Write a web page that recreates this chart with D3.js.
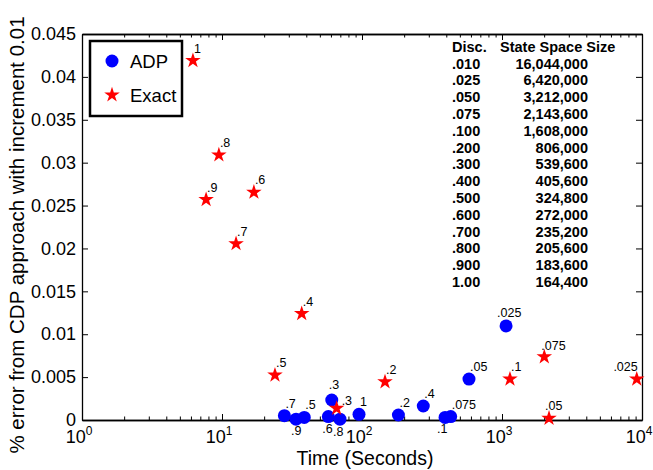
<!DOCTYPE html>
<html>
<head>
<meta charset="utf-8">
<script src="https://d3js.org/d3.v7.min.js"></script>
<style>
  body { margin: 0; background: #fff; }
  text { font-family: "Liberation Sans", Arial, Helvetica, sans-serif; }
</style>
</head>
<body>
<div id="chart"></div>
<script>
// ---- data ----
var adpLabels = [".7", ".9", ".5", ".6", ".3", ".8", "1", ".2", ".4", ".1", ".075", ".05", ".025"];
var adpTime   = [27.9, 33.8, 38.7, 57.5, 60.8, 69.6, 95.2, 182, 274, 392, 430, 581, 1069];
var adpError  = [0.0005, 0.0001, 0.0003, 0.0004, 0.00233, 0.0001, 0.00066, 0.00058, 0.00163, 0.0003, 0.0004, 0.00477, 0.01097];

var exactLabels = ["1", ".8", ".9", ".6", ".7", ".4", ".5", ".3", ".2", ".1", ".075", ".05", ".025"];
var exactTime   = [6.2, 9.5, 7.7, 16.9, 12.6, 37.1, 23.9, 65.9, 146, 1140, 2005, 2167, 9170];
var exactError  = [0.0419, 0.0309, 0.0257, 0.02655, 0.02055, 0.0124, 0.00523, 0.00136, 0.00445, 0.00477, 0.00736, 0.0002, 0.00477];

var yTicks = [0, 0.005, 0.01, 0.015, 0.02, 0.025, 0.03, 0.035, 0.04, 0.045];
var yTickLabels = ["0", "0.005", "0.01", "0.015", "0.02", "0.025", "0.03", "0.035", "0.04", "0.045"];
var xTicks = [1, 10, 100, 1000, 10000];
var xTickExp = ["0", "1", "2", "3", "4"];

var discCol = [".010", ".025", ".050", ".075", ".100", ".200", ".300", ".400", ".500", ".600", ".700", ".800", ".900", "1.00"];
var sizeCol = ["16,044,000", "6,420,000", "3,212,000", "2,143,600", "1,608,000", "806,000", "539,600",
               "405,600", "324,800", "272,000", "235,200", "205,600", "183,600", "164,400"];

// label placement tweaks (layout only)
var adpLabelPos = {
  ".9": [-5, 16], ".6": [-6, 16], ".8": [-7, 17], ".1": [-8, 16],
  ".3": [-3, -11], ".025": [-9, -9]
};
var exactLabelPos = { ".3": [5, -3], ".075": [-3, -7], ".05": [-4, -8] };

// ---- layout ----
var W = 653, H = 470;
var mLeft = 82, mRight = 642, mTop = 34, mBottom = 420;

var svg = d3.select("#chart").append("svg")
  .attr("width", W).attr("height", H);

var x = d3.scaleLog().domain([1, 10000]).range([mLeft, mRight]);
var y = d3.scaleLinear().domain([0, 0.045]).range([mBottom, mTop]);

var minors = [];
for (var k = 0; k < 4; k++) for (var m = 2; m <= 9; m++) minors.push(m * Math.pow(10, k));

function styleAxis(g) {
  g.select(".domain").attr("stroke", "#000").attr("stroke-width", 1.3);
  g.selectAll(".tick line").attr("stroke", "#000").attr("stroke-width", 1);
}

// bottom / top axes (ticks point inward)
svg.append("g").attr("transform", "translate(0," + mBottom + ")")
  .call(d3.axisBottom(x).tickValues(xTicks).tickFormat("").tickSize(-6).tickSizeOuter(0)).call(styleAxis);
svg.append("g").attr("transform", "translate(0," + mBottom + ")")
  .call(d3.axisBottom(x).tickValues(minors).tickFormat("").tickSize(-3.5).tickSizeOuter(0)).call(styleAxis);
svg.append("g").attr("transform", "translate(0," + mTop + ")")
  .call(d3.axisTop(x).tickValues(xTicks).tickFormat("").tickSize(-6).tickSizeOuter(0)).call(styleAxis);
svg.append("g").attr("transform", "translate(0," + mTop + ")")
  .call(d3.axisTop(x).tickValues(minors).tickFormat("").tickSize(-3.5).tickSizeOuter(0)).call(styleAxis);

// left / right axes
var yl = svg.append("g").attr("transform", "translate(" + mLeft + ",0)")
  .call(d3.axisLeft(y).tickValues(yTicks).tickFormat(function (d, i) { return yTickLabels[i]; })
    .tickSize(-6).tickSizeOuter(0).tickPadding(6))
  .call(styleAxis);
yl.selectAll("text").attr("font-size", 18).attr("fill", "#000")
  .attr("font-family", "Liberation Sans, Arial, sans-serif");
svg.append("g").attr("transform", "translate(" + mRight + ",0)")
  .call(d3.axisRight(y).tickValues(yTicks).tickFormat("").tickSize(-6).tickSizeOuter(0)).call(styleAxis);

// x tick labels with superscripts
var xl = svg.append("g");
xTicks.forEach(function (t, i) {
  var tx = xl.append("text").attr("x", x(t) - 3).attr("y", 443)
    .attr("text-anchor", "middle").attr("font-size", 18).attr("fill", "#000");
  tx.append("tspan").text("10");
  tx.append("tspan").attr("dy", -8).attr("font-size", 12).text(xTickExp[i]);
});

// axis titles
svg.append("text").attr("x", (mLeft + mRight) / 2 + 3).attr("y", 465)
  .attr("text-anchor", "middle").attr("font-size", 19.5).text("Time (Seconds)");
svg.append("text")
  .attr("transform", "translate(24," + ((mTop + mBottom) / 2 + 8) + ") rotate(-90)")
  .attr("text-anchor", "middle").attr("font-size", 20.5)
  .text("% error from CDP approach with increment 0.01");

// ---- marks ----
var star = d3.symbol().type(d3.symbolStar).size(75);

var adp = adpTime.map(function (t, i) { return { t: t, e: adpError[i], lab: adpLabels[i] }; });
var exact = exactTime.map(function (t, i) { return { t: t, e: exactError[i], lab: exactLabels[i] }; });

svg.append("g").selectAll("circle").data(adp).enter().append("circle")
  .attr("cx", function (d) { return x(d.t); })
  .attr("cy", function (d) { return y(d.e); })
  .attr("r", 6.5).attr("fill", "#0000ff");

svg.append("g").selectAll("path").data(exact).enter().append("path")
  .attr("d", star)
  .attr("transform", function (d) { return "translate(" + x(d.t) + "," + y(d.e) + ")"; })
  .attr("fill", "#ff0000");

function addLabels(data, pos, isExact) {
  svg.append("g").selectAll("text").data(data).enter().append("text")
    .attr("x", function (d) { var p = pos[d.lab]; return x(d.t) + (p ? p[0] : 1); })
    .attr("y", function (d) { var p = pos[d.lab]; return y(d.e) + (p ? p[1] : -8); })
    .attr("text-anchor", function (d) { return (isExact && d.lab === ".025") ? "end" : "start"; })
    .attr("font-size", 12.5).attr("fill", "#000")
    .text(function (d) { return d.lab; });
}
addLabels(adp, adpLabelPos, false);
addLabels(exact, exactLabelPos, true);

// ---- legend ----
var lg = svg.append("g");
lg.append("rect").attr("x", 90).attr("y", 41).attr("width", 92).attr("height", 75)
  .attr("fill", "#fff").attr("stroke", "#000").attr("stroke-width", 2.5);
lg.append("circle").attr("cx", 112).attr("cy", 61).attr("r", 6.5).attr("fill", "#0000ff");
lg.append("path").attr("d", star).attr("transform", "translate(112,95)").attr("fill", "#ff0000");
lg.append("text").attr("x", 130).attr("y", 68).attr("font-size", 18.5).text("ADP");
lg.append("text").attr("x", 130).attr("y", 102).attr("font-size", 18.5).text("Exact");

// ---- table ----
var tb = svg.append("g").attr("font-weight", "bold").attr("font-size", 14.5);
tb.append("text").attr("x", 452).attr("y", 52).text("Disc.");
tb.append("text").attr("x", 500).attr("y", 52).text("State Space Size");
discCol.forEach(function (d, i) {
  tb.append("text").attr("x", 452).attr("y", 68.5 + i * 16.8).text(d);
  tb.append("text").attr("x", 588).attr("y", 68.5 + i * 16.8).attr("text-anchor", "end").text(sizeCol[i]);
});
</script>
</body>
</html>
